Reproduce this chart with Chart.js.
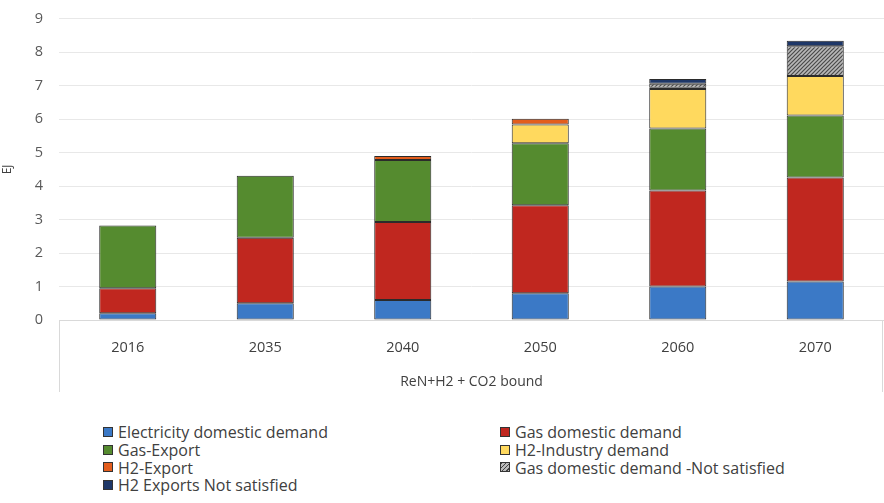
<!DOCTYPE html>
<html>
<head>
<meta charset="utf-8">
<script src="https://cdn.jsdelivr.net/npm/chart.js@4"></script>
<style>
  body{margin:0;background:#fff;font-family:"Open Sans",sans-serif;}
  #wrap{position:relative;width:884px;height:503px;overflow:hidden;}
  #chartBox{position:absolute;left:0;top:-6px;width:884px;height:416px;}
  #legend{position:absolute;left:103px;top:423px;display:grid;grid-template-columns:397px 380px;row-gap:0;font-size:16px;color:#404040;}
  #legend div{display:flex;align-items:center;height:17.8px;white-space:nowrap;}
  #legend span.sw{display:inline-block;width:10px;height:10px;border:1px solid #333;margin-right:5px;box-sizing:border-box;}
</style>
</head>
<body>
<div id="wrap">
  <div id="chartBox"><canvas id="c"></canvas></div>
  <div id="legend"></div>
</div>
<script>
// categories and series (EJ)
const years = ['2016','2035','2040','2050','2060','2070'];
const seriesNames = ['Electricity domestic demand','Gas domestic demand','Gas-Export','H2-Industry demand','H2-Export','Gas domestic demand -Not satisfied','H2 Exports Not satisfied'];
const elecDomestic   = [0.20, 0.50, 0.60, 0.80, 1.00, 1.15];
const gasDomestic    = [0.75, 1.96, 2.33, 2.63, 2.87, 3.11];
const gasExport      = [1.87, 1.85, 1.85, 1.85, 1.85, 1.85];
const h2Industry     = [0, 0, 0, 0.56, 1.18, 1.18];
const h2Export       = [0, 0, 0.12, 0.17, 0.04, 0];
const gasNotSat      = [0, 0, 0, 0, 0.12, 0.89];
const h2ExpNotSat    = [0, 0, 0, 0, 0.14, 0.16];
const yTicks = [0,1,2,3,4,5,6,7,8,9];

// hatched fill for the "not satisfied" gas
function hatch(){
  const p = document.createElement('canvas');
  p.width = 4; p.height = 4;
  const g = p.getContext('2d');
  g.fillStyle = '#b8b8b8'; g.fillRect(0,0,4,4);
  g.strokeStyle = '#4a4a4a'; g.lineWidth = 1.2;
  g.beginPath(); g.moveTo(0,4); g.lineTo(4,0); g.moveTo(-1,1); g.lineTo(1,-1); g.moveTo(3,5); g.lineTo(5,3); g.stroke();
  return g.createPattern(p,'repeat');
}
const hatchFill = hatch();
const colors = ['#3b79c6','#c0271f','#558b2f','#ffd95e','#e35d1d',hatchFill,'#1e3768'];
const swatch = ['#3b79c6','#c0271f','#558b2f','#ffd95e','#e35d1d','repeating-linear-gradient(135deg,#444 0 1px,#bbb 1px 3px)','#1e3768'];
const allData = [elecDomestic,gasDomestic,gasExport,h2Industry,h2Export,gasNotSat,h2ExpNotSat];

const datasets = seriesNames.map((name,i)=>({
  label:name,
  data:allData[i],
  backgroundColor:colors[i],
  borderColor:'#2b2b2b',
  // no outline on empty segments
  borderWidth:ctx=>ctx.raw ? 1 : 0,
  borderSkipped:false,
  barPercentage:0.415,
  categoryPercentage:1.0
}));

// category box lines under the plot (Excel style)
const catBox = {
  id:'catBox',
  afterDraw(chart){
    const {ctx, chartArea:a} = chart;
    ctx.save();
    ctx.strokeStyle = '#d9d9d9'; ctx.lineWidth = 1;
    ctx.beginPath();
    ctx.moveTo(a.left+0.5, a.bottom); ctx.lineTo(a.left+0.5, a.bottom+72);
    ctx.moveTo(a.right-1.5, a.bottom); ctx.lineTo(a.right-1.5, a.bottom+72);
    ctx.stroke();
    ctx.restore();
  }
};

new Chart(document.getElementById('c'),{
  type:'bar',
  data:{labels:years, datasets},
  options:{
    responsive:true, maintainAspectRatio:false, animation:false,
    layout:{padding:{top:10,right:0,left:0,bottom:0}},
    plugins:{legend:{display:false}, tooltip:{enabled:false}},
    scales:{
      x:{
        stacked:true,
        grid:{display:false, drawTicks:false},
        border:{color:'#d9d9d9'},
        ticks:{color:'#404040', font:{family:'Open Sans', size:14.5}, padding:19},
        title:{display:true, text:'ReN+H2 + CO2 bound', color:'#404040', font:{family:'Open Sans', size:14}, padding:{top:12,bottom:20}},
        afterFit(s){ s.height = 90; }
      },
      y:{
        stacked:true, min:0, max:9,
        afterBuildTicks(s){ s.ticks = yTicks.map(v=>({value:v})); },
        grid:{color:'#e8e8e8', drawTicks:false},
        border:{display:false},
        ticks:{color:'#595959', font:{family:'Open Sans', size:14.5}, padding:16},
        title:{display:true, text:'EJ', color:'#404040', font:{family:'Open Sans', size:12}, padding:{top:0,bottom:4}},
        afterFit(s){ s.width = 59; }
      }
    }
  },
  plugins:[catBox]
});

// two-column legend, row-major like the original
const leg = document.getElementById('legend');
seriesNames.forEach((name,i)=>{
  const d = document.createElement('div');
  d.innerHTML = '<span class="sw" style="background:'+swatch[i]+'"></span>'+name;
  leg.appendChild(d);
});
</script>
</body>
</html>
